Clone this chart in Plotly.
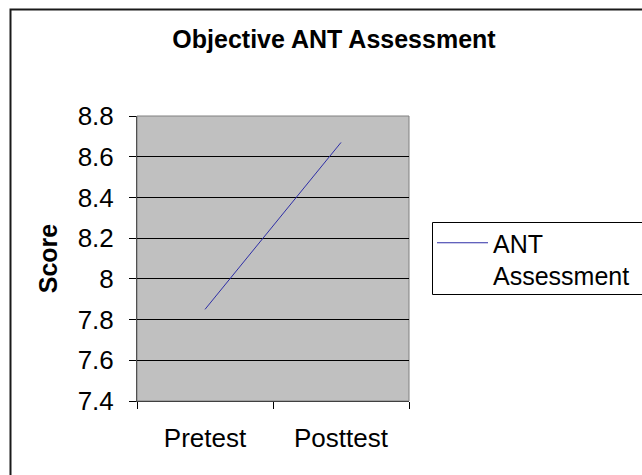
import plotly.graph_objects as go

categories = ["Pretest", "Posttest"]
scores = [7.85, 8.67]
series_name = "ANT<br>Assessment"
y_ticks = [7.4, 7.6, 7.8, 8.0, 8.2, 8.4, 8.6, 8.8]
y_tick_text = ["7.4", "7.6", "7.8", "8", "8.2", "8.4", "8.6", "8.8"]

W, H = 642, 475
L, R, T, B = 137, 409, 116, 401

def px_x(p):
    return (p - L) / (R - L)

def px_y(p):
    return (B - p) / (B - T)

fig = go.Figure()
fig.add_trace(go.Scatter(
    x=categories, y=scores, mode="lines", name=series_name,
    line=dict(color="#2E2EA6", width=1),
    showlegend=True,
))

font_main = "Liberation Sans, Arial, sans-serif"

fig.update_layout(
    width=W, height=H,
    margin=dict(l=L, r=W - R, t=T, b=H - B, autoexpand=False),
    paper_bgcolor="white",
    plot_bgcolor="#C0C0C0",
    font=dict(family=font_main, size=26, color="black"),
    title=dict(text="<b>Objective ANT Assessment</b>", xref="container", yref="container",
               x=334 / W, xanchor="center",
               y=1 - 39 / H, yanchor="middle", font=dict(size=25, family=font_main)),
    xaxis=dict(
        type="category", range=[-0.5, 1.5],
        showgrid=False, showline=True, linecolor="#404040", linewidth=1,
        ticks="outside", ticklen=7, tickcolor="black", tickwidth=1,
        tickson="boundaries", ticklabelstandoff=14,
        tickfont=dict(size=26),
    ),
    yaxis=dict(
        range=[7.4, 8.8], tickmode="array", tickvals=y_ticks, ticktext=y_tick_text,
        showgrid=True, gridcolor="black", gridwidth=1,
        showline=True, linecolor="#505050", linewidth=1,
        ticks="outside", ticklen=7, tickcolor="black", tickwidth=1,
        ticklabelstandoff=10, zeroline=False,
        tickfont=dict(size=26),
        title=dict(text="<b>Score</b>", font=dict(size=25), standoff=12),
    ),
    legend=dict(
        x=px_x(432), y=px_y(220), xanchor="left", yanchor="top",
        borderwidth=0, bgcolor="rgba(0,0,0,0)",
        font=dict(size=25), tracegroupgap=0, valign="top", itemwidth=51,
    ),
    shapes=[
        # outer chart border (extends past the right and bottom edges)
        dict(type="rect", xref="paper", yref="paper",
             x0=px_x(10.5), x1=px_x(700), y0=px_y(520), y1=px_y(9.5),
             line=dict(color="#1a1a1a", width=2), layer="below"),
        # plot area outline
        dict(type="rect", xref="paper", yref="paper",
             x0=0, x1=1, y0=0, y1=1,
             line=dict(color="#808080", width=1), layer="below"),
        # legend box (extends past the right edge)
        dict(type="rect", xref="paper", yref="paper",
             x0=px_x(432.5), x1=px_x(700), y0=px_y(294.5), y1=px_y(222.5),
             line=dict(color="black", width=1), fillcolor="white", layer="below"),
    ],
)

fig.write_html(
    "out.html",
    config={"displayModeBar": False},
    post_script="document.body.style.margin='0';document.body.style.overflow='hidden';",
)
